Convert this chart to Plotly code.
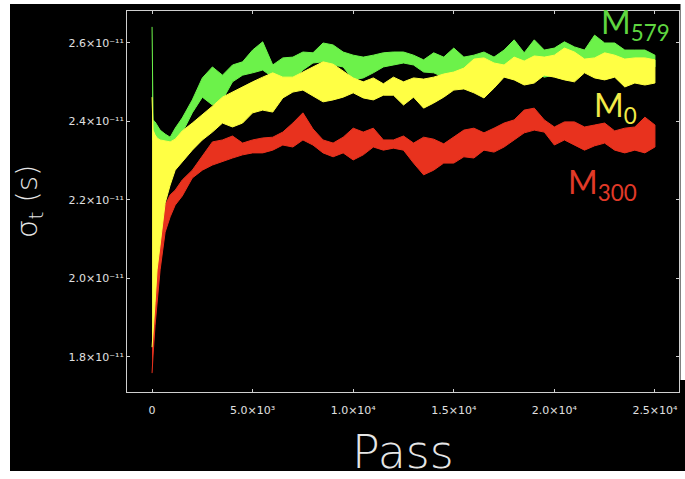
import plotly.graph_objects as go

# Pass number sample points
passes = [0, 50, 150, 250, 400, 650, 900, 1150, 1500] + list(range(2000, 25001, 500))

# Envelopes of each noisy band, sigma_t in units of 1e-11 s
m579_upper = [2.641, 2.404, 2.399, 2.391, 2.378, 2.368, 2.360, 2.383, 2.409,
              2.455, 2.511, 2.539, 2.518, 2.544, 2.552, 2.582, 2.603, 2.544, 2.562,
              2.564, 2.577, 2.575, 2.600, 2.595, 2.577, 2.569, 2.564, 2.569, 2.575,
              2.577, 2.577, 2.569, 2.557, 2.575, 2.564, 2.587, 2.564, 2.569, 2.577,
              2.564, 2.582, 2.608, 2.575, 2.608, 2.582, 2.587, 2.603, 2.590, 2.582,
              2.620, 2.600, 2.600, 2.582, 2.582, 2.582, 2.569]
m579_lower = [2.353, 2.353, 2.348, 2.340, 2.340, 2.332, 2.327, 2.340, 2.371,
              2.422, 2.462, 2.442, 2.455, 2.501, 2.518, 2.524, 2.531, 2.513, 2.511,
              2.506, 2.531, 2.549, 2.552, 2.544, 2.539, 2.506, 2.511, 2.524, 2.539,
              2.544, 2.549, 2.544, 2.526, 2.524, 2.513, 2.511, 2.531, 2.549, 2.549,
              2.539, 2.539, 2.544, 2.531, 2.524, 2.513, 2.518, 2.531, 2.552, 2.557,
              2.557, 2.552, 2.557, 2.552, 2.549, 2.544, 2.539]
m0_upper = [2.462, 2.378, 2.366, 2.358, 2.353, 2.350, 2.348, 2.355, 2.376,
            2.396, 2.417, 2.439, 2.462, 2.475, 2.490, 2.501, 2.513, 2.524, 2.513,
            2.513, 2.526, 2.539, 2.552, 2.546, 2.529, 2.511, 2.501, 2.511, 2.496,
            2.513, 2.501, 2.511, 2.508, 2.513, 2.521, 2.526, 2.536, 2.559, 2.562,
            2.549, 2.544, 2.564, 2.554, 2.567, 2.564, 2.569, 2.587, 2.577, 2.559,
            2.562, 2.575, 2.569, 2.559, 2.562, 2.562, 2.557]
m0_lower = [1.825, 1.843, 1.938, 2.022, 2.085, 2.192, 2.238, 2.276, 2.297,
            2.327, 2.353, 2.373, 2.396, 2.386, 2.396, 2.422, 2.429, 2.424, 2.460,
            2.475, 2.480, 2.465, 2.450, 2.455, 2.462, 2.473, 2.460, 2.455, 2.467,
            2.467, 2.442, 2.462, 2.434, 2.447, 2.462, 2.480, 2.483, 2.473, 2.460,
            2.485, 2.513, 2.506, 2.493, 2.498, 2.518, 2.513, 2.506, 2.501, 2.524,
            2.511, 2.506, 2.513, 2.488, 2.498, 2.493, 2.498]
m300_upper = [1.869, 1.869, 1.958, 2.034, 2.098, 2.187, 2.213, 2.225, 2.251,
              2.276, 2.312, 2.348, 2.353, 2.363, 2.345, 2.353, 2.358, 2.360, 2.373,
              2.396, 2.422, 2.381, 2.353, 2.345, 2.360, 2.383, 2.373, 2.383, 2.353,
              2.353, 2.363, 2.345, 2.360, 2.355, 2.343, 2.360, 2.378, 2.383, 2.371,
              2.383, 2.396, 2.404, 2.429, 2.434, 2.404, 2.386, 2.399, 2.399, 2.386,
              2.391, 2.396, 2.376, 2.383, 2.386, 2.411, 2.391]
m300_lower = [1.759, 1.805, 1.881, 1.938, 2.022, 2.118, 2.157, 2.187, 2.210,
              2.256, 2.276, 2.289, 2.297, 2.307, 2.315, 2.320, 2.320, 2.327, 2.340,
              2.335, 2.353, 2.340, 2.320, 2.310, 2.320, 2.302, 2.315, 2.335, 2.327,
              2.332, 2.327, 2.294, 2.264, 2.276, 2.294, 2.294, 2.310, 2.307, 2.327,
              2.322, 2.335, 2.353, 2.371, 2.378, 2.373, 2.340, 2.353, 2.340, 2.327,
              2.338, 2.345, 2.327, 2.320, 2.327, 2.320, 2.335]

x_tickvals = [0, 5000, 10000, 15000, 20000, 25000]
x_ticktext = ["0", "5.0×10³", "1.0×10⁴", "1.5×10⁴", "2.0×10⁴", "2.5×10⁴"]
y_tickvals = [1.8e-11, 2.0e-11, 2.2e-11, 2.4e-11, 2.6e-11]
y_ticktext = ["1.8×10⁻¹¹", "2.0×10⁻¹¹", "2.2×10⁻¹¹", "2.4×10⁻¹¹", "2.6×10⁻¹¹"]

series = [
    ("M300", m300_upper, m300_lower, "#e8321e"),
    ("M579", m579_upper, m579_lower, "#6cf24a"),
    ("M0", m0_upper, m0_lower, "#ffff44"),
]

fig = go.Figure()
for name, up, lo, col in series:
    xs = passes + passes[::-1]
    ys = [v * 1e-11 for v in up] + [v * 1e-11 for v in lo[::-1]]
    fig.add_trace(go.Scatter(x=xs, y=ys, mode="lines", fill="toself",
                             fillcolor=col, line=dict(color=col, width=1),
                             name=name, hoverinfo="skip", showlegend=False))

W, H = 685, 479
L, R, T, B = 127, 6, 11, 87
pw, ph = W - L - R, H - T - B


def px(xp):
    return (xp - L) / pw


def py(yp):
    return (H - B - yp) / ph


frame = "#cfcfcf"
axis_common = dict(showline=True, linecolor=frame, linewidth=1, mirror="ticks",
                   ticks="inside", ticklen=3, tickcolor=frame, showgrid=False,
                   zeroline=False, tickfont=dict(family="DejaVu Sans", size=11, color="#e0e0e0"))

fig.update_layout(
    width=W, height=H,
    margin=dict(l=L, r=R, t=T, b=B),
    paper_bgcolor="white",
    plot_bgcolor="black",
    xaxis=dict(range=[-1246, 26196], tickvals=x_tickvals, ticktext=x_ticktext,
               ticklabelstandoff=8, **axis_common),
    yaxis=dict(range=[1.7108e-11, 2.6815e-11], tickvals=y_tickvals, ticktext=y_ticktext,
               **axis_common),
    shapes=[
        dict(type="rect", xref="paper", yref="paper", x0=px(10), x1=px(690),
             y0=py(471), y1=py(4), fillcolor="black", line_width=0, layer="below"),
        dict(type="rect", xref="paper", yref="paper", x0=px(680.5), x1=px(690),
             y0=py(380), y1=py(-5), fillcolor="white", line_width=0, layer="below"),
    ],
    annotations=[
        dict(text="Pass", xref="paper", yref="paper", x=px(403), y=py(452),
             xanchor="center", yanchor="middle", showarrow=False,
             font=dict(family="DejaVu Sans ExtraLight, DejaVu Sans", size=46,
                       color="#e6e6e6", weight=200)),
        dict(text="σ<sub>t</sub> (s)", xref="paper", yref="paper", x=px(29), y=py(202),
             xanchor="center", yanchor="middle", textangle=-90, showarrow=False,
             font=dict(family="DejaVu Sans ExtraLight, DejaVu Sans", size=29,
                       color="#e6e6e6", weight=200)),
        dict(text="M<sub>579</sub>", xref="paper", yref="paper", x=px(599), y=py(24),
             xanchor="left", yanchor="middle", showarrow=False,
             font=dict(family="Lato", size=32, color="#5fd640")),
        dict(text="M<sub>0</sub>", xref="paper", yref="paper", x=px(592), y=py(107),
             xanchor="left", yanchor="middle", showarrow=False,
             font=dict(family="Lato", size=32, color="#f2ea48")),
        dict(text="M<sub>300</sub>", xref="paper", yref="paper", x=px(566), y=py(184),
             xanchor="left", yanchor="middle", showarrow=False,
             font=dict(family="Lato", size=32, color="#e23a28")),
    ],
)

fig.write_html("out.html", config={"displayModeBar": False},
               post_script="document.body.style.margin='0';document.body.style.overflow='hidden';")
